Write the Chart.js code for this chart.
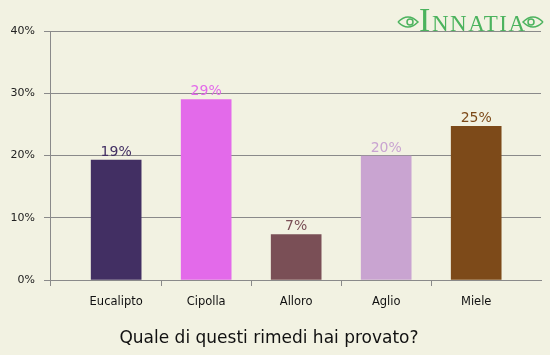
<!DOCTYPE html>
<html>
<head>
<meta charset="utf-8">
<script src="https://cdn.jsdelivr.net/npm/chart.js@4/dist/chart.umd.min.js"></script>
<style>
  html, body { margin: 0; padding: 0; background: #f2f2e2; }
  #wrap { width: 550px; height: 355px; position: relative; }
</style>
</head>
<body>
<div id="wrap"><canvas id="c" width="550" height="355"></canvas></div>
<script>
const categories = ["Eucalipto", "Cipolla", "Alloro", "Aglio", "Miele"];
const values = [19.25, 29.0, 7.3, 19.9, 24.7];
const valueLabels = ["19%", "29%", "7%", "20%", "25%"];
const barColors = ["#422f63", "#e36aea", "#7a4f56", "#c9a4d1", "#7d4a19"];
const yTicks = [0, 10, 20, 30, 40];
const chartTitle = "Quale di questi rimedi hai provato?";

const gridColor = "#8a8a8a";
const FONT = "'DejaVu Sans', Verdana, sans-serif";

const labelPlugin = {
  id: "valueLabels",
  afterDatasetsDraw(chart) {
    const ctx = chart.ctx;
    const meta = chart.getDatasetMeta(0);
    ctx.save();
    ctx.font = "14px " + FONT;
    ctx.textAlign = "center";
    ctx.textBaseline = "bottom";
    meta.data.forEach((el, i) => {
      ctx.fillStyle = barColors[i];
      ctx.fillText(valueLabels[i], el.x, el.y - 1);
    });
    ctx.restore();
  }
};

const decorPlugin = {
  id: "decor",
  afterDraw(chart) {
    const ctx = chart.ctx;
    const a = chart.chartArea;
    ctx.save();
    ctx.strokeStyle = gridColor;
    ctx.lineWidth = 1;
    ctx.beginPath();
    ctx.moveTo(Math.round(a.left) + 0.5, a.bottom);
    ctx.lineTo(Math.round(a.left) + 0.5, a.bottom + 6);
    ctx.stroke();
    // title
    ctx.fillStyle = "#111";
    ctx.font = "17px " + FONT;
    ctx.textAlign = "center";
    ctx.textBaseline = "middle";
    ctx.fillText(chartTitle, 269, 339);
    // logo
    const g = "#4cb35e";
    ctx.fillStyle = g;
    ctx.strokeStyle = g;
    ctx.textBaseline = "alphabetic";
    ctx.textAlign = "left";
    ctx.font = "34px 'Liberation Serif', serif";
    ctx.fillText("I", 419, 31);
    ctx.font = "23px 'Liberation Serif', serif";
    try { ctx.letterSpacing = "1.5px"; } catch (e) {}
    ctx.fillText("NNATIA", 432, 31);
    try { ctx.letterSpacing = "0px"; } catch (e) {}
    const eye = (cx, cy, dir) => {
      ctx.lineWidth = 1.5;
      ctx.beginPath();
      ctx.moveTo(cx - 10 * dir, cy);
      ctx.quadraticCurveTo(cx, cy - 10, cx + 10 * dir, cy);
      ctx.quadraticCurveTo(cx, cy + 10, cx - 10 * dir, cy);
      ctx.stroke();
      ctx.beginPath();
      ctx.arc(cx + 2 * dir, cy, 3, 0, Math.PI * 2);
      ctx.stroke();
    };
    eye(408, 22, 1);
    eye(533, 22, -1);
    ctx.restore();
  }
};

new Chart(document.getElementById("c"), {
  type: "bar",
  data: {
    datasets: [{
      data: values.map((v, i) => ({ x: i, y: v })),
      backgroundColor: barColors,
      borderWidth: 0,
      barThickness: 50
    }]
  },
  options: {
    responsive: false,
    animation: false,
    devicePixelRatio: 1,
    layout: { padding: { top: 31, right: 9, left: 0, bottom: 0 } },
    plugins: { legend: { display: false }, tooltip: { enabled: false }, title: { display: false } },
    scales: {
      x: {
        type: "linear",
        offset: false,
        bounds: "data",
        min: -0.735,
        max: 4.72,
        afterBuildTicks(scale) {
          scale.ticks = categories.map((c, i) => ({ value: i }));
        },
        afterFit(scale) { scale.height = 75; },
        grid: {
          offset: true,
          drawOnChartArea: false,
          drawTicks: true,
          tickLength: 6,
          color: gridColor,
          tickColor: (ctx) => (ctx.type !== "tick" || ctx.index === 0) ? "rgba(0,0,0,0)" : gridColor
        },
        border: { color: gridColor, width: 1 },
        ticks: {
          autoSkip: false,
          maxRotation: 0,
          padding: 9,
          color: "#111",
          font: { family: FONT, size: 11.5 },
          callback: (v) => categories[v]
        }
      },
      y: {
        min: 0,
        max: 40,
        afterBuildTicks(scale) {
          scale.ticks = yTicks.map(v => ({ value: v }));
        },
        afterFit(scale) { scale.width = 50; },
        grid: { color: gridColor, tickLength: 6, tickColor: gridColor },
        border: { color: gridColor, width: 1 },
        ticks: {
          padding: 9,
          color: "#222",
          font: { family: FONT, size: 11 },
          callback: (v) => v + "%"
        }
      }
    }
  },
  plugins: [labelPlugin, decorPlugin]
});
</script>
</body>
</html>
